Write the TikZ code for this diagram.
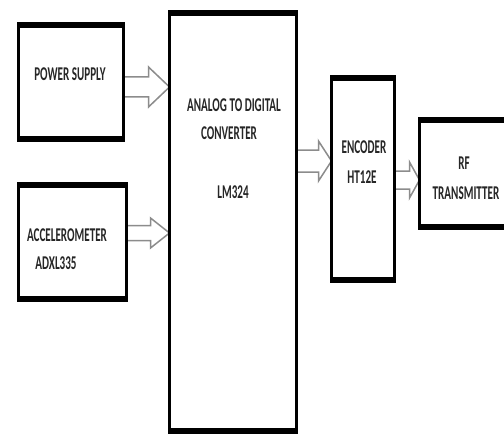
\documentclass[tikz,border=0pt]{standalone}
\usepackage{fontspec}
\newfontfamily\blockfont[FakeStretch=0.57]{Carlito}
\usetikzlibrary{calc}
\newcommand\blockarrow[6]{% from, to, y, head length, shaft half, head half
  \path (#1.east |- 0,#3) coordinate (#1-#2-s) (#2.west |- 0,#3) coordinate (#1-#2-t);
  \draw[blk] ([yshift=#5pt]#1-#2-s) -- ([xshift=-#4pt,yshift=#5pt]#1-#2-t)
    -- ([xshift=-#4pt,yshift=#6pt]#1-#2-t) -- (#1-#2-t)
    -- ([xshift=-#4pt,yshift=-#6pt]#1-#2-t) -- ([xshift=-#4pt,yshift=-#5pt]#1-#2-t)
    -- ([yshift=-#5pt]#1-#2-s);
}
\tikzset{
  blockbox/.style={inner sep=0pt, outer sep=0pt, rectangle},
  edgeline/.style={line width=6pt, draw=black},
  blk/.style={draw=black!45, line width=1.5pt, fill=white, line join=miter},
  lbl/.style={font=\blockfont\bfseries\fontsize{19.5}{22}\selectfont, text=black!85, inner sep=0pt}
}
\begin{document}
\begin{tikzpicture}[x=1pt,y=-1pt]
\useasboundingbox (0,0) rectangle (504,436);
\fill[white] (0,0) rectangle (504,436);
\begin{scope}
\clip (0,0) rectangle (504,436);
\path
  node[blockbox, minimum width=105pt, minimum height=114pt] (ps) at (71,82) {}
  node[blockbox, minimum width=108pt, minimum height=114pt] (acc) at (72.5,242) {}
  node[blockbox, minimum width=127pt, minimum height=418pt] (adc) at (233,222) {}
  node[blockbox, minimum width=63pt, minimum height=202pt] (enc) at (363,179) {}
  node[blockbox, minimum width=89pt, minimum height=107pt] (rf) at (464,173.5) {};
% arrows
\blockarrow{ps}{adc}{87}{21}{10}{20}
\blockarrow{acc}{adc}{233}{19}{7.5}{15}
\blockarrow{adc}{enc}{161}{13}{11}{20}
\blockarrow{enc}{rf}{180}{10}{9}{18}
% borders
\foreach \n in {ps,acc,adc,enc,rf}{
  \draw[line width=3pt] (\n.north west) rectangle (\n.south east);
  \draw[edgeline] ([xshift=-1.5pt]\n.north west) -- ([xshift=1.5pt]\n.north east);
  \draw[edgeline] ([xshift=-1.5pt]\n.south west) -- ([xshift=1.5pt]\n.south east);
}
\end{scope}
% labels
\node[lbl] (psl) at (70,74) {POWER SUPPLY};
\node[lbl] (accl1) at (67,235) {ACCELEROMETER};
\node[lbl] (accl2) at (56,263) {ADXL335};
\node[lbl] (adcl1) at (234,105) {ANALOG TO DIGITAL};
\node[lbl] (adcl2) at (229,133) {CONVERTER};
\node[lbl] (adcl3) at (233,192) {LM324};
\node[lbl] (encl1) at (364,147) {ENCODER};
\node[lbl] (encl2) at (362,177) {HT12E};
\node[lbl] (rfl1) at (464,163) {RF};
\node[lbl] (rfl2) at (466,193) {TRANSMITTER};
\end{tikzpicture}
\end{document}
